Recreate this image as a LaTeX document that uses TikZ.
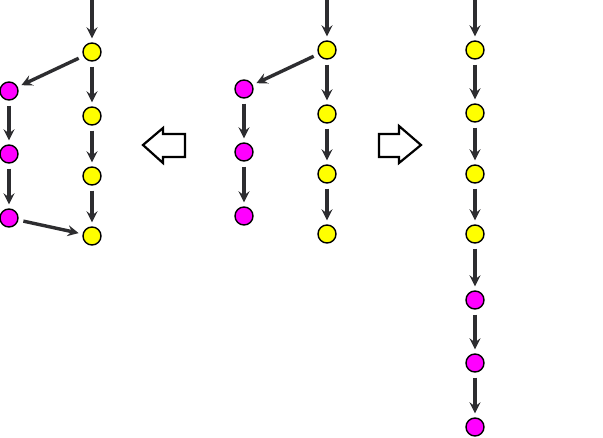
\documentclass[tikz,border=0pt]{standalone}
\usetikzlibrary{arrows.meta}

\definecolor{cyel}{RGB}{255,255,0}
\definecolor{cmag}{RGB}{255,0,255}
\definecolor{cdark}{RGB}{45,45,48}

\begin{document}
\begin{tikzpicture}[
    x=1pt, y=-1pt,
    commit/.style={circle, draw, line width=1.4pt, minimum size=18pt, inner sep=0pt},
    main/.style={commit, fill=cyel},
    side/.style={commit, fill=cmag},
    link/.style={-{Stealth[length=11pt, width=11pt, inset=4pt]}, line width=3.4pt, draw=cdark, shorten <=5pt, shorten >=4pt},
    hollow/.style={draw, line width=2.2pt, line join=miter, fill=white},
  ]
    \useasboundingbox (0,0) rectangle (603,437);

    % left: merge result
    \coordinate (ltop) at (92,-2);
    \node[main] (l1) at (92,52) {};
    \node[main] (l2) at (92,116) {};
    \node[main] (l3) at (92,176) {};
    \node[main] (l4) at (92,236) {};
    \node[side] (la) at (9,91) {};
    \node[side] (lb) at (9,154) {};
    \node[side] (lc) at (9,218) {};

    \draw[link, shorten <=0pt] (ltop) -- (l1);
    \draw[link] (l1) -- (l2);
    \draw[link] (l2) -- (l3);
    \draw[link] (l3) -- (l4);
    \draw[link] (l1) -- (la);
    \draw[link] (la) -- (lb);
    \draw[link] (lb) -- (lc);
    \draw[link] (lc) -- (l4);

    % middle: two branches
    \coordinate (mtop) at (327,-4);
    \node[main] (m1) at (327,50) {};
    \node[main] (m2) at (327,114) {};
    \node[main] (m3) at (327,174) {};
    \node[main] (m4) at (327,234) {};
    \node[side] (ma) at (244,89) {};
    \node[side] (mb) at (244,152) {};
    \node[side] (mc) at (244,216) {};

    \draw[link, shorten <=0pt] (mtop) -- (m1);
    \draw[link] (m1) -- (m2);
    \draw[link] (m2) -- (m3);
    \draw[link] (m3) -- (m4);
    \draw[link] (m1) -- (ma);
    \draw[link] (ma) -- (mb);
    \draw[link] (mb) -- (mc);

    % right: rebase result
    \coordinate (rtop) at (475,-4);
    \node[main] (r1) at (475,50) {};
    \node[main] (r2) at (475,113) {};
    \node[main] (r3) at (475,174) {};
    \node[main] (r4) at (475,234) {};
    \node[side] (r5) at (475,300) {};
    \node[side] (r6) at (475,363) {};
    \node[side] (r7) at (475,427) {};

    \draw[link, shorten <=0pt] (rtop) -- (r1);
    \draw[link] (r1) -- (r2);
    \draw[link] (r2) -- (r3);
    \draw[link] (r3) -- (r4);
    \draw[link] (r4) -- (r5);
    \draw[link] (r5) -- (r6);
    \draw[link] (r6) -- (r7);

    % big hollow arrows
    \draw[hollow] (143,145) -- (163,128) -- (163,134) -- (185,134) -- (185,157) -- (163,157) -- (163,163) -- cycle;
    \draw[hollow] (379,134) -- (399,134) -- (399,126) -- (421,145) -- (399,163) -- (399,157) -- (379,157) -- cycle;
  \end{tikzpicture}
\end{document}
